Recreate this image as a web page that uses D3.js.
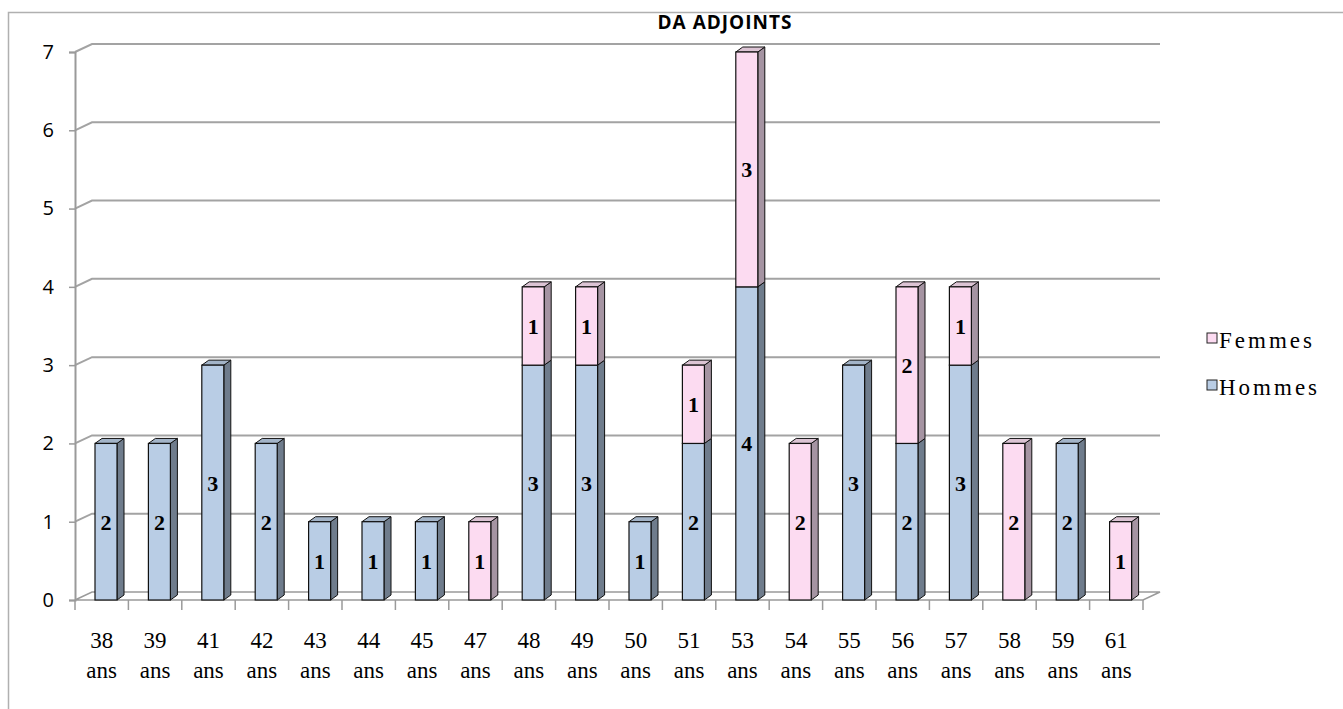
<!DOCTYPE html>
<html>
<head>
<meta charset="utf-8">
<script src="https://cdn.jsdelivr.net/npm/d3@7"></script>
<style>
  body { margin: 0; background: #fff; }
</style>
</head>
<body>
<svg id="chart" width="1343" height="709"></svg>
<script>
// ages (categories) and counts per gender
const ages = ['38','39','41','42','43','44','45','47','48','49','50','51','53','54','55','56','57','58','59','61'];
const hommes = [2,2,3,2,1,1,1,0,3,3,1,2,4,0,3,2,3,0,2,0];
const femmes = [0,0,0,0,0,0,0,1,1,1,0,1,3,2,0,2,1,2,0,1];
const yTicks = [0,1,2,3,4,5,6,7];
const seriesNames = ['Femmes','Hommes'];

const svg = d3.select('#chart');
const depthX = 17, depthY = -8;   // wall depth
const barDX = 7, barDY = -5;      // bar depth
const serif = '"Liberation Serif", "Times New Roman", serif';

const x = d3.scaleBand().domain(ages).range([75, 1143]);
const y = d3.scaleLinear().domain([0, 7]).range([600, 52]);

const colors = {
  Hommes: { front: '#b9cde5', side: '#6f7c8c', top: '#a3b4c8' },
  Femmes: { front: '#fcdbf1', side: '#a594a2', top: '#dcc4d4' }
};

// outer border
svg.append('rect').attr('x', 8.5).attr('y', 12.5).attr('width', 1340).attr('height', 720)
  .attr('fill', 'none').attr('stroke', '#b0b0b0').attr('stroke-width', 1.5);

// title
svg.append('text').text('DA ADJOINTS')
  .attr('x', 725).attr('y', 29).attr('text-anchor', 'middle')
  .style('letter-spacing', '1px')
  .style('font-family', '"Open Sans", sans-serif').style('font-weight', 'bold').style('font-size', '19px');

// gridlines: diagonal across side wall + horizontal across back wall
const grid = svg.append('g');
yTicks.forEach(t => {
  if (t === 0) return;
  grid.append('polyline')
    .attr('points', [[75, y(t)], [75 + depthX, y(t) + depthY], [1143 + depthX, y(t) + depthY]].map(p => p.join(',')).join(' '))
    .attr('fill', 'none').attr('stroke', '#a3a3a3').attr('stroke-width', 2);
});

// floor
svg.append('polygon')
  .attr('points', [[75, y(0)], [75 + depthX, y(0) + depthY], [1143 + depthX, y(0) + depthY], [1143, y(0)]].map(p => p.join(',')).join(' '))
  .attr('fill', 'none').attr('stroke', '#9a9a9a').attr('stroke-width', 1.5);

// y axis
const yAxis = svg.append('g').attr('transform', 'translate(75,0)')
  .call(d3.axisLeft(y).tickValues(yTicks).tickSize(6).tickPadding(15).tickFormat(d3.format('d')));
yAxis.select('.domain').attr('stroke', '#9a9a9a').attr('stroke-width', 2);
yAxis.selectAll('.tick line').attr('stroke', '#9a9a9a').attr('stroke-width', 1.5);
yAxis.selectAll('.tick text').attr('fill', '#000')
  .style('font-family', '"Open Sans", sans-serif').style('font-size', '20px');

// x axis ticks at band edges
const xEdges = ages.map(a => x(a)).concat([x.range()[1]]);
svg.append('g').selectAll('line').data(xEdges).join('line')
  .attr('x1', d => d).attr('x2', d => d).attr('y1', y(0)).attr('y2', y(0) + 10)
  .attr('stroke', '#9a9a9a').attr('stroke-width', 1.5);

// x labels (two lines)
const xl = svg.append('g').selectAll('text').data(ages).join('text')
  .attr('text-anchor', 'middle')
  .style('font-family', serif).style('font-size', '23px');
xl.append('tspan').attr('x', d => x(d) + x.bandwidth() / 2).attr('y', 648).text(d => d);
xl.append('tspan').attr('x', d => x(d) + x.bandwidth() / 2).attr('y', 678).text('ans');

// bars
const barOff = 20, barW = 22;
function drawSegment(g, x0, v0, v1, c, isTop) {
  const y0 = y(v0), y1 = y(v1);
  // side face
  g.append('polygon')
    .attr('points', [[x0 + barW, y0], [x0 + barW + barDX, y0 + barDY], [x0 + barW + barDX, y1 + barDY], [x0 + barW, y1]].map(p => p.join(',')).join(' '))
    .attr('fill', c.side).attr('stroke', '#111').attr('stroke-width', 1).attr('stroke-linejoin', 'round');
  if (isTop) {
    g.append('polygon')
      .attr('points', [[x0, y1], [x0 + barDX, y1 + barDY], [x0 + barW + barDX, y1 + barDY], [x0 + barW, y1]].map(p => p.join(',')).join(' '))
      .attr('fill', c.top).attr('stroke', '#111').attr('stroke-width', 1).attr('stroke-linejoin', 'round');
  }
  g.append('rect').attr('x', x0).attr('y', y1).attr('width', barW).attr('height', y0 - y1)
    .attr('fill', c.front).attr('stroke', '#111').attr('stroke-width', 1.2);
}

const bars = svg.append('g');
ages.forEach((a, i) => {
  const g = bars.append('g');
  const x0 = x(a) + barOff;
  const h = hommes[i], f = femmes[i];
  if (h > 0) drawSegment(g, x0, 0, h, colors.Hommes, f === 0);
  if (f > 0) drawSegment(g, x0, h, h + f, colors.Femmes, true);
});

// data labels
const labelData = [];
ages.forEach((a, i) => {
  if (hommes[i] > 0) labelData.push({ a: a, v: hommes[i], mid: hommes[i] / 2 });
  if (femmes[i] > 0) labelData.push({ a: a, v: femmes[i], mid: hommes[i] + femmes[i] / 2 });
});
svg.append('g').selectAll('text').data(labelData).join('text')
  .attr('x', d => x(d.a) + barOff + barW / 2).attr('y', d => y(d.mid) + 8)
  .attr('text-anchor', 'middle').text(d => d.v)
  .style('font-family', serif)
  .style('font-weight', 'bold').style('font-size', '22px');

// legend
const legend = svg.append('g').selectAll('g').data(seriesNames).join('g')
  .attr('transform', (d, i) => 'translate(1207,' + (333 + i * 47) + ')');
legend.append('rect').attr('width', 10).attr('height', 10)
  .attr('fill', d => colors[d].front).attr('stroke', '#222').attr('stroke-width', 1);
legend.append('text').attr('x', 12).attr('y', 15).text(d => d)
  .style('letter-spacing', '3px')
  .style('font-family', serif).style('font-size', '23px');
</script>
</body>
</html>
